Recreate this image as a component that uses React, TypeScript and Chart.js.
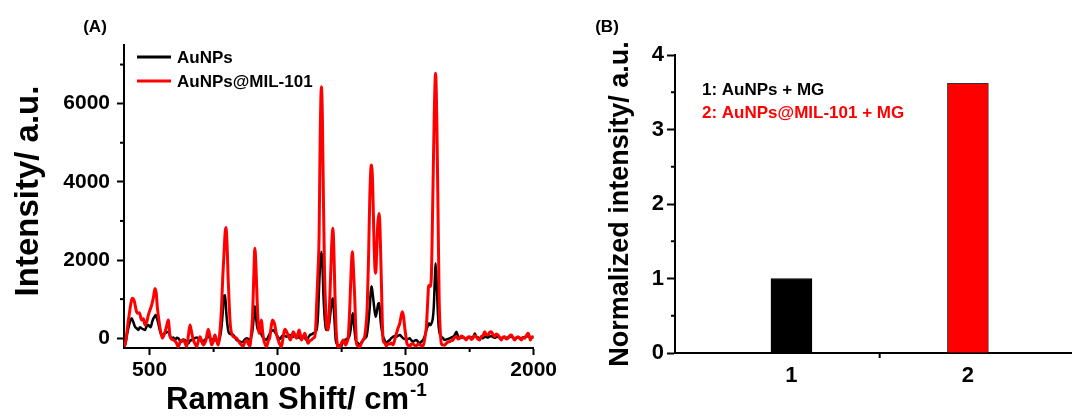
import React, { useEffect, useRef } from 'react';
import { Chart, registerables } from 'chart.js';

Chart.register(...registerables);

const FONT = "'Liberation Sans', Arial, Helvetica, sans-serif";

// ---------- Panel A: Raman spectra ----------
const seriesNamesA = ['AuNPs', 'AuNPs@MIL-101'];
const seriesColorsA = ['#000000', '#ff0000'];

const ramanShiftAuNPs = [
  400, 404, 415, 425, 430, 436, 443, 450, 456, 462, 469, 475, 482, 488, 495, 500, 504, 510, 515, 520,
  524, 529, 534, 540, 547, 553, 560, 566, 573, 580, 586, 593, 599, 606, 612, 618, 625, 631, 638, 645,
  651, 658, 664, 670, 677, 684, 690, 697, 703, 710, 716, 722, 729, 736, 742, 749, 755, 762, 768, 775,
  781, 786, 790, 795, 799, 803, 807, 811, 819, 827, 833, 840, 846, 853, 860, 866, 872, 879, 886, 892,
  897, 902, 907, 911, 915, 920, 925, 931, 938, 944, 950, 957, 963, 970, 976, 983, 990, 996, 1003, 1009,
  1016, 1022, 1029, 1035, 1042, 1048, 1054, 1061, 1068, 1074, 1080, 1087, 1094, 1100, 1107, 1113, 1120, 1126, 1133, 1139,
  1146, 1152, 1157, 1162, 1166, 1171, 1175, 1179, 1183, 1187, 1191, 1196, 1202, 1208, 1213, 1216, 1220, 1224, 1227, 1232,
  1236, 1242, 1249, 1255, 1262, 1269, 1275, 1280, 1285, 1290, 1294, 1299, 1305, 1313, 1321, 1328, 1334, 1341, 1347, 1353,
  1360, 1364, 1367, 1372, 1377, 1383, 1388, 1393, 1397, 1402, 1407, 1412, 1418, 1425, 1431, 1438, 1444, 1451, 1457, 1464,
  1470, 1477, 1484, 1490, 1497, 1503, 1509, 1516, 1522, 1529, 1535, 1542, 1548, 1555, 1561, 1568, 1575, 1581, 1586, 1591,
  1596, 1601, 1606, 1610, 1614, 1617, 1621, 1625, 1629, 1634, 1640, 1646, 1653, 1659, 1666, 1672, 1679, 1685, 1692, 1698,
  1704, 1711, 1717, 1724, 1730, 1737, 1743, 1750, 1756, 1763, 1770, 1776, 1783, 1789, 1796, 1802, 1809, 1815, 1822, 1828,
  1835, 1841, 1848, 1854, 1861, 1867, 1874, 1880, 1887, 1893, 1900, 1906, 1913, 1919, 1926, 1932, 1939, 1945, 1952, 1958,
  1965, 1971, 1978, 1984, 1990, 1995, 2000,
];
const intensityAuNPs = [
  -200, -174, 200, 450, 508, 420, 295, 250, 210, 280, 252, 230, 210, 300, 337, 300, 278, 420, 508, 560,
  593, 500, 380, 200, 82, 100, 125, 150, 167, 60, 0, 20, -46, 10, 0, -60, -88, -30, -46, -100,
  -131, -60, -46, -20, 0, 20, 0, -40, -88, -60, -46, 0, 40, 0, -46, -20, -46, -60, -88, 20,
  295, 700, 1062, 1100, 700, 400, 200, 125, 100, 82, 30, -46, -60, -88, -100, -88, -30, 0, -20, -46,
  30, 210, 550, 820, 600, 295, 200, 167, 80, 0, -20, -46, 30, 125, 180, 210, 150, 82, 20, -20,
  40, 82, 60, 40, 70, 82, 60, 40, 60, 82, 40, 0, 20, 40, 0, -46, 20, 82, 100, 125,
  150, 210, 500, 1300, 1900, 2213, 1900, 1100, 600, 300, 210, 250, 400, 750, 980, 1020, 700, 250, -46, -150,
  -216, -180, -200, -100, -46, -20, 0, 50, 210, 500, 636, 300, -46, -120, -174, -100, -46, 0, 40, 300,
  806, 1200, 1330, 1100, 800, 550, 700, 880, 900, 465, 200, 40, -50, -131, -80, -46, 0, 40, 60, 40,
  60, 82, 40, 0, -20, -46, -20, 0, -50, -88, -60, -46, -90, -131, -90, -46, 60, 210, 300, 380,
  330, 380, 500, 806, 1500, 1915, 1500, 800, 300, 100, 40, 0, -46, -30, -20, 0, 20, 40, 82, 167,
  60, 0, 20, 20, 0, -20, 10, 30, 20, 10, 120, 40, 20, 0, 10, 0, 40, 30, 20, 50,
  60, 30, 10, 30, 40, 20, 0, 10, 30, 10, 20, 30, 40, 20, -10, 10, 20, 10, 0, 20,
  30, 40, 60, 30, 0, 20, 20,
];

const ramanShiftMIL = [
  400, 404, 418, 433, 440, 449, 455, 460, 469, 476, 482, 489, 495, 508, 515, 521, 526, 530, 541, 550,
  558, 566, 573, 580, 593, 603, 612, 622, 632, 640, 645, 652, 658, 664, 671, 678, 684, 690, 697, 703,
  710, 720, 729, 736, 742, 750, 755, 762, 768, 775, 781, 786, 790, 795, 798, 802, 807, 812, 816, 827,
  840, 846, 853, 860, 866, 872, 879, 886, 892, 897, 902, 907, 911, 915, 920, 924, 928, 933, 937, 941,
  946, 951, 957, 963, 970, 975, 980, 985, 989, 995, 1002, 1008, 1015, 1021, 1028, 1034, 1041, 1050, 1056, 1061,
  1068, 1074, 1079, 1084, 1089, 1093, 1100, 1106, 1112, 1119, 1126, 1132, 1139, 1145, 1149, 1152, 1157, 1162, 1166, 1171,
  1175, 1179, 1183, 1188, 1193, 1197, 1202, 1207, 1212, 1216, 1220, 1224, 1228, 1232, 1237, 1243, 1250, 1256, 1261, 1266,
  1271, 1276, 1282, 1287, 1292, 1296, 1301, 1305, 1308, 1314, 1321, 1328, 1334, 1340, 1345, 1350, 1355, 1360, 1366, 1371,
  1376, 1380, 1383, 1387, 1391, 1396, 1400, 1406, 1409, 1412, 1418, 1425, 1431, 1438, 1444, 1451, 1457, 1464, 1470, 1477,
  1482, 1487, 1492, 1496, 1501, 1505, 1510, 1516, 1522, 1529, 1535, 1542, 1548, 1555, 1562, 1568, 1575, 1581, 1586, 1590,
  1595, 1600, 1606, 1612, 1617, 1622, 1627, 1631, 1635, 1640, 1646, 1652, 1659, 1665, 1672, 1678, 1685, 1691, 1698, 1705,
  1711, 1717, 1724, 1730, 1737, 1743, 1750, 1756, 1763, 1769, 1776, 1782, 1789, 1796, 1802, 1809, 1815, 1822, 1828, 1835,
  1841, 1848, 1854, 1861, 1867, 1874, 1880, 1887, 1893, 1900, 1906, 1913, 1919, 1926, 1932, 1939, 1945, 1952, 1958, 1965,
  1971, 1978, 1984, 1987, 1992, 1997, 2000,
];
const intensityMIL = [
  -200, -170, 500, 1020, 950, 680, 640, 653, 465, 500, 337, 420, 593, 849, 1050, 1275, 1150, 806, 252, 0,
  120, 300, 465, 40, -46, -100, -216, -60, -46, -150, -216, 100, 337, 150, -46, -150, -216, -80, 40, -60,
  -174, -50, 227, 40, -174, -50, 82, -60, -174, 200, 806, 1600, 2085, 2700, 2830, 2500, 1488, 700, 295, 40,
  0, -60, -131, -180, -200, -100, -46, -150, -200, 100, 551, 1600, 2300, 1900, 977, 400, 125, 300, 465, 200,
  -46, -150, -216, -80, 40, 300, 465, 420, 337, 120, -46, -150, -216, 0, 227, 180, 82, -46, 60, 167,
  80, 0, 100, 210, 80, -46, 40, 125, 0, -131, -60, -46, 0, 40, 300, 806, 1600, 2600, 5000, 6430,
  5600, 3500, 1800, 700, 250, 210, 700, 1600, 2500, 2810, 2200, 1100, 300, -100, -216, -216, -120, -46, -100, -174,
  -100, 40, 806, 1700, 2210, 1800, 1062, 300, -131, -200, -216, -120, -46, 40, 300, 806, 2000, 3600, 4430, 4000,
  2600, 1800, 1660, 2200, 2900, 3190, 2800, 1233, 400, -46, -120, -200, -150, -150, -120, -170, -50, 120, 250, 380,
  550, 680, 550, 300, 50, -130, -180, -215, -150, -150, -180, -200, -150, -170, -190, -200, 0, 300, 900, 1350,
  1320, 1500, 3500, 5800, 6775, 5500, 3000, 1000, 210, -150, -174, -180, -131, -100, -88, -60, -46, 20, 40, -20,
  0, 60, 40, 0, -46, 30, 40, -30, 0, 70, 40, -20, -46, 50, 60, 167, 90, 82, 150, 167,
  90, 40, 110, 82, 20, -46, 30, 40, -20, 0, 60, 82, 20, -46, 10, 40, 0, -46, 20, 0,
  60, 125, 40, -46, 30, 40, 0,
];

const xRangeA = [400, 2000];
const yRangeA = [-250, 7500];
const xTicksA = [500, 1000, 1500, 2000];
const xMinorTicksA = [750, 1250, 1750];
const yTicksA = [0, 2000, 4000, 6000];
const yMinorTicksA = [1000, 3000, 5000, 7000];
const panelLabelA = '(A)';
const yTitleA = 'Intensity/ a.u.';
const xTitleA = 'Raman Shift/ cm';
const xTitleSupA = '-1';

// ---------- Panel B: normalized intensity bars ----------
const samplesB = [1, 2];
const normalizedIntensity = [1.0, 3.62];
const legendB = ['1: AuNPs + MG', '2: AuNPs@MIL-101 + MG'];
const barColorsB = ['#000000', '#ff0000'];
const barBordersB = ['#000000', '#333333'];
const xRangeB = [0.34, 2.59];
const yRangeB = [0, 4];
const xTicksB = [1, 2];
const xMinorTicksB = [1.5];
const yTicksB = [0, 1, 2, 3, 4];
const yMinorTicksB = [0.5, 1.5, 2.5, 3.5];
const panelLabelB = '(B)';
const yTitleB = 'Normalized intensity/ a.u.';

const bold = (size: number) => `bold ${size}px ${FONT}`;

function minorTicks(xMinor: number[], yMinor: number[], xLen: number, yLen: number) {
  return {
    id: 'minorTicks',
    afterDraw(chart: any) {
      const ctx = chart.ctx;
      const xs = chart.scales.x;
      const ys = chart.scales.y;
      ctx.save();
      ctx.strokeStyle = '#000';
      ctx.lineWidth = 2;
      xMinor.forEach((v) => {
        const px = xs.getPixelForValue(v);
        ctx.beginPath();
        ctx.moveTo(px, chart.chartArea.bottom);
        ctx.lineTo(px, chart.chartArea.bottom + xLen);
        ctx.stroke();
      });
      yMinor.forEach((v) => {
        const py = ys.getPixelForValue(v);
        ctx.beginPath();
        ctx.moveTo(chart.chartArea.left, py);
        ctx.lineTo(chart.chartArea.left - yLen, py);
        ctx.stroke();
      });
      ctx.restore();
    },
  };
}

function ChartA() {
  const ref = useRef<HTMLCanvasElement>(null);
  useEffect(() => {
    if (!ref.current) return;
    const textPlugin = {
      id: 'textA',
      afterDraw(chart: any) {
        const ctx = chart.ctx;
        ctx.save();
        ctx.fillStyle = '#000';
        ctx.font = bold(17);
        ctx.textAlign = 'center';
        ctx.textBaseline = 'middle';
        ctx.fillText(panelLabelA, 95, 27);
        // legend
        chart.data.datasets.forEach((ds: any, i: number) => {
          const y = 57 + 24 * i;
          ctx.strokeStyle = ds.borderColor;
          ctx.lineWidth = 3;
          ctx.beginPath();
          ctx.moveTo(137, y);
          ctx.lineTo(171, y);
          ctx.stroke();
          ctx.fillStyle = '#000';
          ctx.font = bold(17);
          ctx.textAlign = 'left';
          ctx.fillText(ds.label, 177, y + 1);
        });
        // y title
        ctx.save();
        ctx.translate(38, 191);
        ctx.rotate(-Math.PI / 2);
        ctx.font = bold(33);
        ctx.textAlign = 'center';
        ctx.textBaseline = 'alphabetic';
        ctx.fillStyle = '#000';
        ctx.fillText(yTitleA, 0, 0);
        ctx.restore();
        // x title with superscript
        ctx.font = bold(31);
        const w1 = ctx.measureText(xTitleA).width;
        ctx.font = bold(19);
        const w2 = ctx.measureText(xTitleSupA).width;
        const start = 296 - (w1 + w2) / 2;
        ctx.textAlign = 'left';
        ctx.textBaseline = 'alphabetic';
        ctx.font = bold(31);
        ctx.fillText(xTitleA, start, 409);
        ctx.font = bold(19);
        ctx.fillText(xTitleSupA, start + w1 + 1, 396);
        ctx.restore();
      },
    };
    const chart = new Chart(ref.current, {
      type: 'line',
      data: {
        datasets: [
          {
            label: seriesNamesA[0],
            data: ramanShiftAuNPs.map((x, i) => ({ x, y: intensityAuNPs[i] })),
            borderColor: seriesColorsA[0],
            borderWidth: 2.5,
            pointRadius: 0,
            cubicInterpolationMode: 'monotone',
            order: 1,
          },
          {
            label: seriesNamesA[1],
            data: ramanShiftMIL.map((x, i) => ({ x, y: intensityMIL[i] })),
            borderColor: seriesColorsA[1],
            borderWidth: 3,
            pointRadius: 0,
            cubicInterpolationMode: 'monotone',
            order: 0,
          },
        ],
      },
      options: {
        animation: false,
        responsive: false,
        layout: { padding: { left: 0, right: 26, top: 45, bottom: 0 } },
        plugins: { legend: { display: false }, tooltip: { enabled: false } },
        scales: {
          x: {
            type: 'linear',
            min: xRangeA[0],
            max: xRangeA[1],
            afterBuildTicks: (s: any) => {
              s.ticks = xTicksA.map((v) => ({ value: v }));
            },
            afterFit: (s: any) => {
              s.height = 68;
            },
            grid: { display: true, drawOnChartArea: false, drawTicks: true, tickLength: 7, tickColor: '#000', tickWidth: 2 },
            border: { display: true, color: '#000', width: 2 },
            ticks: {
              font: { family: FONT, size: 21, weight: 'bold' },
              color: '#000',
              padding: 3,
              maxRotation: 0,
              autoSkip: false,
              callback: (v: any) => String(v),
            },
          },
          y: {
            type: 'linear',
            min: yRangeA[0],
            max: yRangeA[1],
            afterBuildTicks: (s: any) => {
              s.ticks = yTicksA.map((v) => ({ value: v }));
            },
            afterFit: (s: any) => {
              s.width = 124;
            },
            grid: { display: true, drawOnChartArea: false, drawTicks: true, tickLength: 7, tickColor: '#000', tickWidth: 2 },
            border: { display: true, color: '#000', width: 2 },
            ticks: {
              font: { family: FONT, size: 21, weight: 'bold' },
              color: '#000',
              padding: 7,
              autoSkip: false,
              callback: (v: any) => String(v),
            },
          },
        },
      },
      plugins: [minorTicks(xMinorTicksA, yMinorTicksA, 4, 4), textPlugin],
    } as any);
    return () => chart.destroy();
  }, []);
  return (
    <canvas
      ref={ref}
      width={560}
      height={416}
      style={{ position: 'absolute', left: 0, top: 0, width: 560, height: 416 }}
    />
  );
}

function ChartB() {
  const ref = useRef<HTMLCanvasElement>(null);
  useEffect(() => {
    if (!ref.current) return;
    const textPlugin = {
      id: 'textB',
      afterDraw(chart: any) {
        const ctx = chart.ctx;
        ctx.save();
        ctx.fillStyle = '#000';
        ctx.font = bold(17);
        ctx.textAlign = 'center';
        ctx.textBaseline = 'middle';
        ctx.fillText(panelLabelB, 47, 27);
        ctx.textAlign = 'left';
        legendB.forEach((t, i) => {
          ctx.fillStyle = barColorsB[i];
          ctx.fillText(t, 142, 90 + 23 * i);
        });
        ctx.save();
        ctx.translate(68, 204);
        ctx.rotate(-Math.PI / 2);
        ctx.font = bold(27);
        ctx.textAlign = 'center';
        ctx.textBaseline = 'alphabetic';
        ctx.fillStyle = '#000';
        ctx.fillText(yTitleB, 0, 0);
        ctx.restore();
        ctx.restore();
      },
    };
    const chart = new Chart(ref.current, {
      type: 'bar',
      data: {
        datasets: [
          {
            data: samplesB.map((x, i) => ({ x, y: normalizedIntensity[i] })),
            backgroundColor: barColorsB,
            borderColor: barBordersB,
            borderWidth: 1,
            barThickness: 41,
          },
        ],
      },
      options: {
        animation: false,
        responsive: false,
        layout: { padding: { left: 0, right: 0, top: 55, bottom: 0 } },
        plugins: { legend: { display: false }, tooltip: { enabled: false } },
        scales: {
          x: {
            type: 'linear',
            min: xRangeB[0],
            max: xRangeB[1],
            offset: false,
            afterBuildTicks: (s: any) => {
              s.ticks = xTicksB.map((v) => ({ value: v }));
            },
            afterFit: (s: any) => {
              s.height = 63;
            },
            grid: { display: true, offset: false, drawOnChartArea: false, drawTicks: false },
            border: { display: true, color: '#000', width: 2 },
            ticks: {
              font: { family: FONT, size: 22, weight: 'bold' },
              color: '#000',
              padding: 10,
              maxRotation: 0,
              autoSkip: false,
              callback: (v: any) => String(v),
            },
          },
          y: {
            type: 'linear',
            min: yRangeB[0],
            max: yRangeB[1],
            afterBuildTicks: (s: any) => {
              s.ticks = yTicksB.map((v) => ({ value: v }));
            },
            afterFit: (s: any) => {
              s.width = 115;
            },
            grid: { display: true, drawOnChartArea: false, drawTicks: true, tickLength: 8, tickColor: '#000', tickWidth: 2 },
            border: { display: true, color: '#000', width: 2 },
            ticks: {
              font: { family: FONT, size: 22, weight: 'bold' },
              color: '#000',
              padding: 3,
              autoSkip: false,
              callback: (v: any) => String(v),
            },
          },
        },
      },
      plugins: [minorTicks(xMinorTicksB, yMinorTicksB, 5, 4), textPlugin],
    } as any);
    return () => chart.destroy();
  }, []);
  return (
    <canvas
      ref={ref}
      width={512}
      height={416}
      style={{ position: 'absolute', left: 560, top: 0, width: 512, height: 416 }}
    />
  );
}

export default function App() {
  return (
    <div style={{ position: 'fixed', left: 0, top: 0, width: 1072, height: 416, background: '#fff', overflow: 'hidden' }}>
      <ChartA />
      <ChartB />
    </div>
  );
}
